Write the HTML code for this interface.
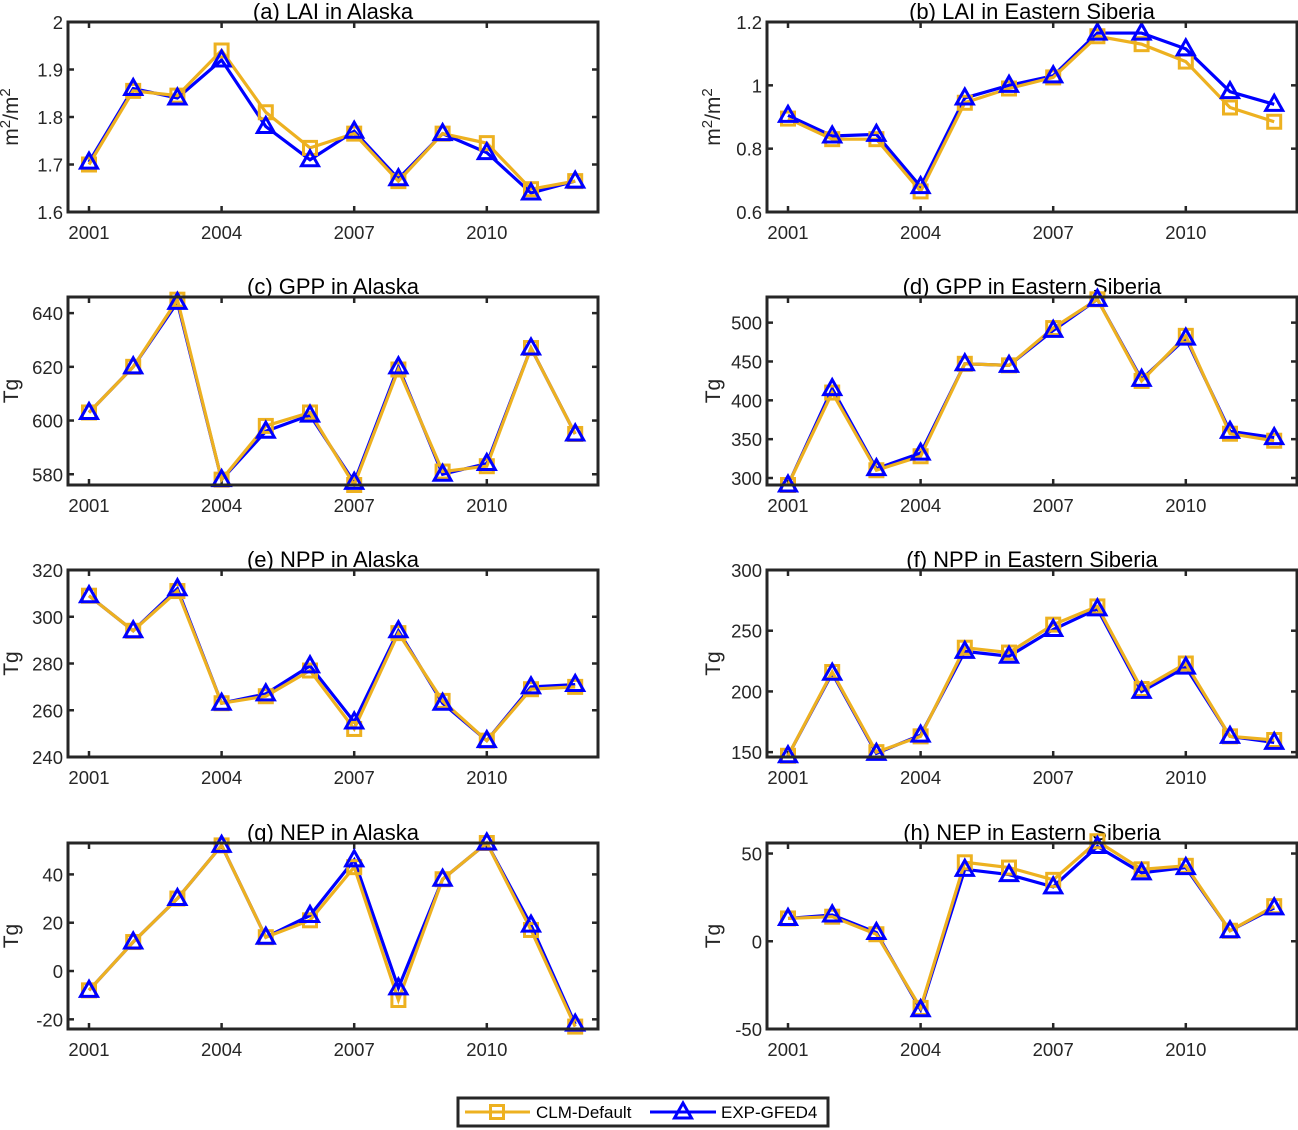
<!DOCTYPE html>
<html><head><meta charset="utf-8"><style>
body{margin:0;background:#fff;}
svg{display:block;font-family:"Liberation Sans",sans-serif;}
</style></head><body>
<svg id="fig" width="1298" height="1130" viewBox="0 0 1298 1130" xmlns="http://www.w3.org/2000/svg"></svg>
<script>
const years=[2001,2002,2003,2004,2005,2006,2007,2008,2009,2010,2011,2012];
const xTicks=[2001,2004,2007,2010];
const titles=["(a) LAI in Alaska","(b) LAI in Eastern Siberia","(c) GPP in Alaska","(d) GPP in Eastern Siberia","(e) NPP in Alaska","(f) NPP in Eastern Siberia","(g) NEP in Alaska","(h) NEP in Eastern Siberia"];
const yRanges=[[1.6,2.0],[0.6,1.2],[576,646],[291,533],[240,320],[146,300],[-24,53],[-50,56]];
const yTicks=[[1.6,1.7,1.8,1.9,2],[0.6,0.8,1,1.2],[580,600,620,640],[300,350,400,450,500],[240,260,280,300,320],[150,200,250,300],[-20,0,20,40],[-50,0,50]];
const yTickLabels=[["1.6","1.7","1.8","1.9","2"],["0.6","0.8","1","1.2"],["580","600","620","640"],["300","350","400","450","500"],["240","260","280","300","320"],["150","200","250","300"],["-20","0","20","40"],["-50","0","50"]];
const clmA=[1.70,1.855,1.845,1.94,1.81,1.735,1.765,1.665,1.765,1.745,1.648,1.665];
const expA=[1.705,1.86,1.84,1.92,1.78,1.71,1.77,1.67,1.765,1.725,1.64,1.665];
const clmB=[0.895,0.83,0.83,0.665,0.945,0.99,1.025,1.155,1.13,1.075,0.93,0.885];
const expB=[0.905,0.84,0.845,0.68,0.96,1.0,1.03,1.165,1.165,1.115,0.98,0.94];
const clmC=[603,620,645,578,598,603,576,619,581,583,627,595];
const expC=[603,620,644,578,596,602,577,620,580,584,627,595];
const clmD=[291,410,310,328,447,445,493,530,425,483,357,348];
const expD=[291,415,312,332,447,445,490,530,427,480,360,352];
const clmE=[309,294,311,263,266,277,252,293,264,247,269,270];
const expE=[309,294,312,263,267,279,255,294,263,247,270,271];
const clmF=[147,216,150,163,236,232,255,270,202,223,163,160];
const expF=[147,215,149,164,233,229,251,268,200,220,163,158];
const clmG=[-8,12,30,52,14,21,43,-12,38,53,17,-23];
const expG=[-8,12,30,52,14,23,46,-7,38,53,19,-22];
const clmH=[13,14,4,-38,45,42,35,57,41,43,6,20];
const expH=[13,15,5,-39,41,38,31,54,39,42,6,19];
const clmAll=[clmA,clmB,clmC,clmD,clmE,clmF,clmG,clmH];
const expAll=[expA,expB,expC,expD,expE,expF,expG,expH];
const yLabels=["m2/m2","m2/m2","Tg","Tg","Tg","Tg","Tg","Tg"];

const NS="http://www.w3.org/2000/svg";
const svg=document.getElementById('fig');
function mk(tag,attrs,parent){const e=document.createElementNS(NS,tag);for(const k in attrs)e.setAttribute(k,attrs[k]);(parent||svg).appendChild(e);return e;}
const colL=[68,598],colR=[767,1297];
const rows=[[22,212],[297,485],[570,757],[843,1029]];
const ORANGE="#EDB120",BLUE="#0000FF";
function sq(g,x,y){return mk('rect',{x:x-6.5,y:y-6.5,width:13,height:13,fill:'none',stroke:ORANGE,'stroke-width':3},g);}
function tri(g,x,y){return mk('polygon',{points:`${x},${y-9} ${x-8.5},${y+6} ${x+8.5},${y+6}`,fill:'none',stroke:BLUE,'stroke-width':3},g);}
for(let p=0;p<8;p++){
  const col=p%2?colR:colL,row=rows[Math.floor(p/2)];
  const [x0,x1]=col,[y0,y1]=row;
  const [ymin,ymax]=yRanges[p];
  const xs=yr=>x0+21+(yr-2001)*44.2;
  const ys=v=>y1-(v-ymin)/(ymax-ymin)*(y1-y0);
  const g=mk('g',{});
  
  
  const t=mk('text',{x:(x0+x1)/2,y:y0-3,'text-anchor':'middle','font-size':22,fill:'#000'},g);t.textContent=titles[p];
  
  xTicks.forEach(yr=>{const x=xs(yr);
    mk('line',{x1:x,x2:x,y1:y1,y2:y1-6,stroke:'#262626','stroke-width':2.5},g);
    mk('line',{x1:x,x2:x,y1:y0,y2:y0+6,stroke:'#262626','stroke-width':2.5},g);
    const l=mk('text',{x:x,y:y1+27,'text-anchor':'middle','font-size':18.5,fill:'#262626'},g);l.textContent=yr;
    });
  yTicks[p].forEach((v,i)=>{const y=ys(v);
    mk('line',{x1:x0,x2:x0+6,y1:y,y2:y,stroke:'#262626','stroke-width':2.5},g);
    mk('line',{x1:x1,x2:x1-6,y1:y,y2:y,stroke:'#262626','stroke-width':2.5},g);
    const l=mk('text',{x:x0-5,y:y+7,'text-anchor':'end','font-size':18.5,fill:'#262626'},g);l.textContent=yTickLabels[p][i];
    });
  const lx=x0-(p%2?47:50),ly=(y0+y1)/2;
  const yl=mk('text',{x:lx,y:ly,'text-anchor':'middle','font-size':21,fill:'#262626',transform:`rotate(-90 ${lx} ${ly})`},g);
  
  if(yLabels[p]==="Tg"){yl.textContent="Tg";}else{yl.innerHTML='m<tspan dy="-8" font-size="15">2</tspan><tspan dy="8">/m</tspan><tspan dy="-8" font-size="15">2</tspan>';}
  const pc=clmAll[p].map((v,i)=>xs(years[i])+','+ys(v)).join(' ');
  const pe=expAll[p].map((v,i)=>xs(years[i])+','+ys(v)).join(' ');
  const le=mk('polyline',{points:pe,fill:'none',stroke:BLUE,'stroke-width':3.2},g);
  
  const lc=mk('polyline',{points:pc,fill:'none',stroke:ORANGE,'stroke-width':3.2},g);
  
  clmAll[p].forEach((v,i)=>{const m=sq(g,xs(years[i]),ys(v));});
  expAll[p].forEach((v,i)=>{const m=tri(g,xs(years[i]),ys(v));});
  const fr=mk('rect',{x:x0,y:y0,width:x1-x0,height:y1-y0,fill:'none',stroke:'#262626','stroke-width':3},g);
  
}
const lg=mk('g',{});


mk('rect',{x:458,y:1098,width:370,height:28,fill:'#fff',stroke:'#262626','stroke-width':3},lg);
mk('line',{x1:465,x2:530,y1:1112,y2:1112,stroke:ORANGE,'stroke-width':3},lg);
sq(lg,497,1112);
const t1=mk('text',{x:536,y:1118,'font-size':17,fill:'#000'},lg);t1.textContent="CLM-Default";

mk('line',{x1:650,x2:716,y1:1112,y2:1112,stroke:BLUE,'stroke-width':3},lg);
tri(lg,683,1112);
const t2=mk('text',{x:721,y:1118,'font-size':17,fill:'#000'},lg);t2.textContent="EXP-GFED4";

</script>
</body></html>
